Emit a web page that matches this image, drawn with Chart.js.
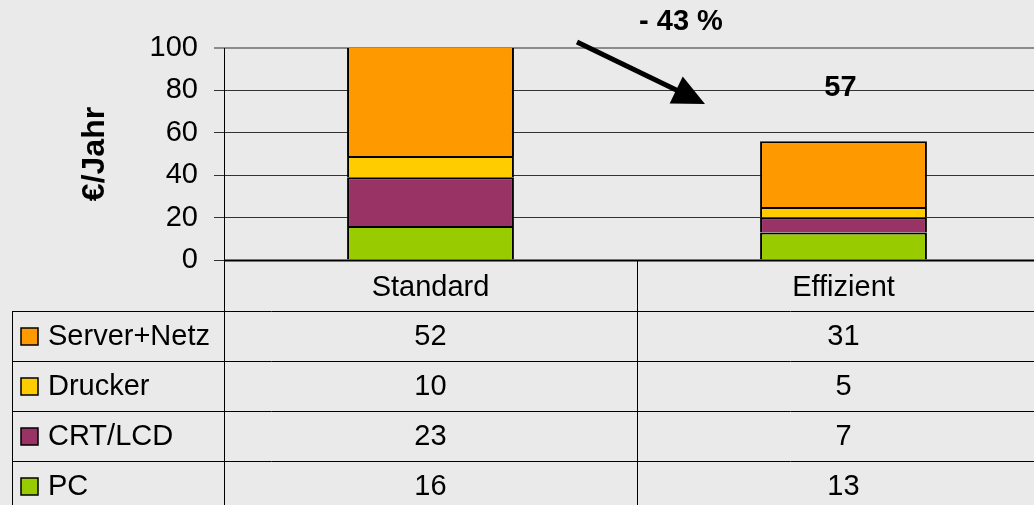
<!DOCTYPE html>
<html>
<head>
<meta charset="utf-8">
<script src="https://cdn.jsdelivr.net/npm/chart.js@4"></script>
<style>
  html, body { margin: 0; padding: 0; background: #eaeaea; overflow: hidden; }
  #wrap { position: relative; width: 1050px; height: 505px; }
</style>
</head>
<body>
<div id="wrap"><canvas id="myChart"></canvas></div>
<script>
const kategorien = ['Standard', 'Effizient'];
const serverNetz = [52, 31];
const drucker = [10, 5];
const crtLcd = [23, 7];
const pc = [16, 13];
const yTicks = [0, 20, 40, 60, 80, 100];
const achsenTitel = '€/Jahr';
const einsparText = '- 43 %';
const summeText = '57';   // Summe wie im Original (gerundet)

const FONT = "'Liberation Sans', Arial, sans-serif";

// unterste Serie zuerst (Stapelreihenfolge)
const serien = [
  { label: 'PC', data: pc, farbe: '#99cc00' },
  { label: 'CRT/LCD', data: crtLcd, farbe: '#993366' },
  { label: 'Drucker', data: drucker, farbe: '#ffcc00' },
  { label: 'Server+Netz', data: serverNetz, farbe: '#ff9900' }
];

const tabellePlugin = {
  id: 'tabelle',
  afterDraw(chart) {
    const c = chart.ctx;
    const area = chart.chartArea;
    const xs = chart.scales.x;
    const ys = chart.scales.y;
    const bottom = chart.height;
    const kopfH = 51, zeileH = 50;
    const spalteGrenze = (xs.getPixelForValue(0) + xs.getPixelForValue(1)) / 2;

    c.save();
    c.strokeStyle = '#000';
    c.lineWidth = 1;

    // Achse links, durch die Tabelle
    c.beginPath();
    c.moveTo(area.left + 0.5, area.top);
    c.lineTo(area.left + 0.5, bottom);
    c.stroke();

    // Spaltengrenze
    c.beginPath();
    c.moveTo(Math.round(spalteGrenze) + 0.5, area.bottom);
    c.lineTo(Math.round(spalteGrenze) + 0.5, bottom);
    c.stroke();

    // linker Tabellenrand
    c.beginPath();
    c.moveTo(12.5, area.bottom + kopfH);
    c.lineTo(12.5, bottom);
    c.stroke();

    // Zeilenlinien
    for (let i = 0; i <= 4; i++) {
      const y = Math.round(area.bottom + kopfH + i * zeileH) + 0.5;
      c.beginPath();
      c.moveTo(12, y);
      c.lineTo(area.right, y);
      c.stroke();
    }

    // Grundlinie
    c.lineWidth = 2;
    c.beginPath();
    c.moveTo(area.left, area.bottom + 0.5);
    c.lineTo(area.right, area.bottom + 0.5);
    c.stroke();

    // Kopfzeile
    c.fillStyle = '#000';
    c.font = '29px ' + FONT;
    c.textAlign = 'center';
    c.textBaseline = 'middle';
    kategorien.forEach((k, i) => {
      c.fillText(k, xs.getPixelForValue(i), area.bottom + kopfH / 2 + 2);
    });

    // Datenzeilen (oberste Serie zuerst)
    const zeilen = serien.slice().reverse();
    zeilen.forEach((s, r) => {
      const yMitte = area.bottom + kopfH + r * zeileH + zeileH / 2 + 1;
      c.fillStyle = s.farbe;
      c.fillRect(21, yMitte - 9, 17, 17);
      c.lineWidth = 1.5;
      c.strokeStyle = '#000';
      c.strokeRect(21, yMitte - 9, 17, 17);
      c.fillStyle = '#000';
      c.textAlign = 'left';
      c.fillText(s.label, 48, yMitte);
      c.textAlign = 'center';
      s.data.forEach((v, i) => {
        c.fillText(String(v), xs.getPixelForValue(i), yMitte);
      });
    });

    // Summe Effizient
    c.font = 'bold 29px ' + FONT;
    c.fillText(summeText, xs.getPixelForValue(1) - 3, ys.getPixelForValue(81));

    // Einsparung mit Pfeil
    c.fillText(einsparText, 681, 22);
    const x0 = 577, y0 = 42, x1 = 705, y1 = 104;
    const ang = Math.atan2(y1 - y0, x1 - x0);
    const kopf = 32;
    c.lineWidth = 5;
    c.beginPath();
    c.moveTo(x0, y0);
    c.lineTo(x1 - kopf * 0.8 * Math.cos(ang), y1 - kopf * 0.8 * Math.sin(ang));
    c.stroke();
    c.beginPath();
    c.moveTo(x1, y1);
    c.lineTo(x1 - kopf * Math.cos(ang) + 15 * Math.sin(ang), y1 - kopf * Math.sin(ang) - 15 * Math.cos(ang));
    c.lineTo(x1 - kopf * Math.cos(ang) - 15 * Math.sin(ang), y1 - kopf * Math.sin(ang) + 15 * Math.cos(ang));
    c.closePath();
    c.fill();
    c.restore();
  }
};

const ctx = document.getElementById('myChart').getContext('2d');
const chart = new Chart(ctx, {
  type: 'bar',
  data: {
    labels: kategorien,
    datasets: serien.map(s => ({
      label: s.label,
      data: s.data,
      backgroundColor: s.farbe,
      borderColor: '#000',
      borderWidth: 2,
      barPercentage: 0.404,
      categoryPercentage: 1
    }))
  },
  options: {
    responsive: true,
    maintainAspectRatio: false,
    animation: false,
    layout: { padding: { top: 48, right: 0, bottom: 245, left: 0 } },
    plugins: { legend: { display: false }, tooltip: { enabled: false } },
    scales: {
      x: { stacked: true, display: false },
      y: {
        stacked: true,
        min: 0,
        max: 100,
        afterBuildTicks: (scale) => { scale.ticks = yTicks.map(v => ({ value: v })); },
        afterFit: (scale) => { scale.width = 224; },
        ticks: { color: '#000', font: { family: FONT, size: 29 }, padding: 16 },
        grid: {
          color: (c) => c.tick && c.tick.value === 100 ? '#8c8c8c' : '#333',
          lineWidth: (c) => c.tick && c.tick.value === 100 ? 2 : 1,
          tickLength: 10
        },
        border: { display: false },
        title: {
          display: true,
          text: achsenTitel,
          color: '#000',
          font: { family: FONT, size: 32, weight: 'bold' },
          padding: { top: 76, bottom: 0 }
        }
      }
    }
  },
  plugins: [tabellePlugin]
});
</script>
</body>
</html>
